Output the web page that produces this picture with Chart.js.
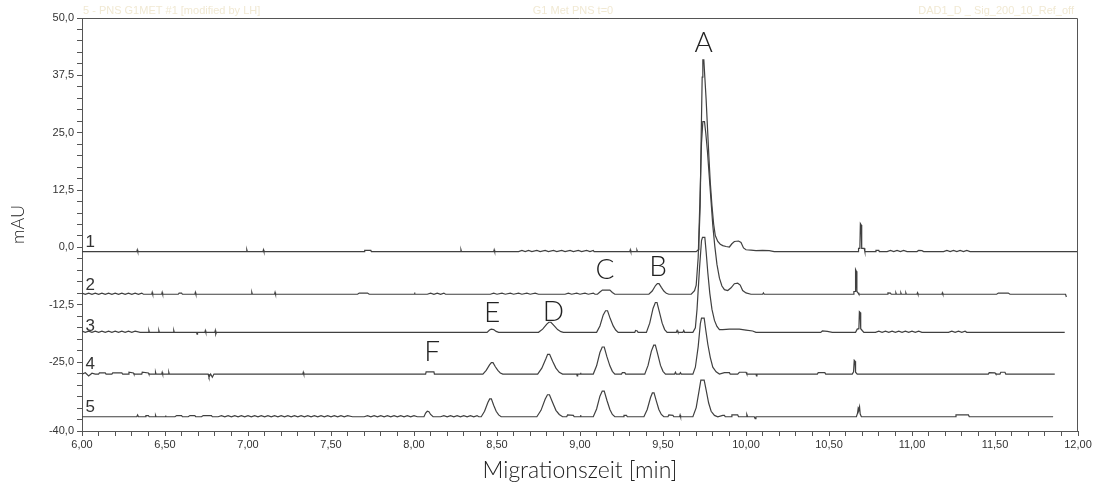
<!DOCTYPE html>
<html>
<head>
<meta charset="utf-8">
<script src="https://cdn.jsdelivr.net/npm/chart.js@4.4.1/dist/chart.umd.min.js"></script>
<style>
  html, body { margin: 0; padding: 0; background: #fff; }
  canvas { display: block; }
</style>
</head>
<body>
<canvas id="elektropherogramm" width="1094" height="491"></canvas>
<script>
// Grundlinien der fünf Läufe (mAU)
const baselines = [-0.9, -10.2, -18.5, -27.6, -36.9];
const traceNames = ["1", "2", "3", "4", "5"];

// Signal über der Grundlinie: [Zeit min, mAU]
const trace1 = [
  [6.00,0],[6.33,0],[6.333,0.4],[6.336,0],[6.99,0],[6.993,0.4],[6.996,0],[7.09,0],[7.093,0.4],[7.096,0],
  [7.70,0],[7.703,0.25],[7.74,0.25],[7.743,0],[8.28,0],[8.283,0.4],[8.286,0],[8.48,0],[8.483,0.4],[8.486,0],
  [8.63,0],[8.65,0.25],[8.67,0],[8.69,0.25],[8.71,0],[8.74,0.25],[8.76,0],[8.79,0.25],[8.81,0],[8.84,0.25],
  [8.86,0],[8.89,0.25],[8.91,0],[8.94,0.25],[8.96,0],[8.99,0.25],[9.01,0],[9.04,0.25],[9.06,0],[9.08,0.25],[9.085,0],
  [9.30,0],[9.303,0.4],[9.306,0],[9.34,0],[9.343,0.3],[9.346,0],
  [9.70,0],[9.712,0.4],[9.716,1.8],[9.724,10],[9.73,25],[9.736,38],[9.740,41.8],[9.746,41.8],[9.752,38],
  [9.76,33],[9.768,27],[9.776,21],[9.785,15],[9.795,10],[9.805,6],[9.815,3.5],[9.83,2.2],[9.845,1.6],[9.86,1.3],
  [9.88,1.1],[9.90,1.0],[9.915,1.7],[9.93,2.2],[9.955,2.3],[9.97,2.0],[9.985,0.8],[10.0,0.4],[10.03,0.3],
  [10.06,0.2],[10.10,0.25],[10.14,0.2],[10.17,0],
  [10.675,0],[10.678,0.7],[10.686,0.7],[10.689,6.1],[10.694,5.8],[10.697,0.7],[10.712,0.7],[10.716,0],
  [10.78,0],[10.783,0.25],[10.80,0.25],[10.803,0],[10.85,0],[10.87,0.25],[10.89,0],[10.91,0.25],[10.93,0],
  [10.95,0.25],[10.97,0],[11.03,0],[11.04,0.25],[11.06,0.2],[11.07,0],[11.19,0],[11.21,0.25],[11.23,0],
  [11.25,0.25],[11.27,0],[11.29,0.25],[11.31,0],[11.33,0.25],[11.35,0],[12.0,0]
];

const trace2 = [
  [6.00,0.25],[6.02,0],[6.04,0.25],[6.06,0],[6.08,0.25],[6.10,0],[6.12,0.25],[6.14,0],[6.16,0.25],[6.18,0],
  [6.20,0.25],[6.22,0],[6.24,0.25],[6.26,0],[6.28,0.25],[6.30,0],[6.32,0.25],[6.34,0],[6.36,0.25],[6.37,0],
  [6.42,0],[6.423,0.4],[6.426,0],[6.48,0],[6.483,0.4],[6.486,0],[6.58,0],[6.585,0.25],[6.60,0.25],[6.605,0],
  [6.68,0],[6.683,0.4],[6.686,0],[7.02,0],[7.023,0.4],[7.026,0],[7.16,0],[7.163,0.4],[7.166,0],
  [7.66,0],[7.67,0.25],[7.72,0.25],[7.73,0],[8.0,0],[8.003,0.4],[8.006,0],[8.08,0],[8.10,0.25],[8.12,0],
  [8.14,0.25],[8.16,0],[8.18,0.25],[8.19,0],[8.46,0],[8.48,0.25],[8.50,0],[8.53,0.25],[8.55,0],[8.58,0.25],
  [8.60,0],[8.63,0.25],[8.65,0],[8.68,0.25],[8.70,0],[8.73,0.25],[8.75,0],[8.78,0],
  [8.91,0],[8.93,0.25],[8.95,0],[8.98,0.25],[9.00,0],[9.03,0.25],[9.05,0],[9.08,0.25],[9.09,0],
  [9.105,0],[9.12,0.5],[9.135,0.9],[9.18,0.9],[9.195,0.4],[9.21,0],
  [9.415,0],[9.435,0.7],[9.455,1.9],[9.466,2.3],[9.476,2.3],[9.49,1.5],[9.505,0.7],[9.52,0.2],[9.535,0],
  [9.67,0],[9.69,0.8],[9.70,2.0],[9.712,8],[9.722,20],[9.732,33],[9.740,37.6],[9.750,37.6],[9.758,35],
  [9.768,31],[9.778,26],[9.79,20],[9.80,15],[9.812,10.5],[9.825,6.5],[9.84,3.5],[9.855,1.8],[9.87,1.0],
  [9.89,0.8],[9.91,1.4],[9.93,2.3],[9.95,2.4],[9.965,2.0],[9.98,0.8],[10.0,0.3],[10.03,0],
  [10.10,0],[10.105,0.3],[10.11,0],
  [10.645,0],[10.65,0.6],[10.657,0.6],[10.66,5.4],[10.665,5.0],[10.668,0.6],[10.675,0.3],[10.68,0],
  [10.85,0],[10.855,0.3],[10.87,0.25],[10.875,0],[10.90,0],[10.903,0.3],[10.906,0],[10.93,0],[10.933,0.3],
  [10.936,0],[10.96,0],[10.963,0.3],[10.966,0],[11.03,0],[11.033,0.3],[11.036,0],[11.18,0],[11.183,0.3],
  [11.186,0],[11.51,0],[11.52,0.25],[11.55,0.25],[11.58,0.25],[11.59,0],[11.925,0],[11.93,-0.6]
];

const trace3 = [
  [6.00,0.25],[6.02,0],[6.04,0.25],[6.06,0],[6.08,0.25],[6.10,0],[6.12,0.25],[6.14,0],[6.16,0.25],[6.18,0],
  [6.20,0.25],[6.22,0],[6.24,0.25],[6.26,0],[6.28,0.25],[6.30,0],[6.32,0.25],[6.35,0],
  [6.40,0],[6.403,0.4],[6.406,0],[6.46,0],[6.463,0.4],[6.466,0],[6.55,0],[6.553,0.4],[6.556,0],
  [6.69,0],[6.693,-0.4],[6.696,0],[6.74,0],[6.743,0.4],[6.746,0],[6.80,0],[6.803,0.4],[6.806,-0.4],[6.81,0],
  [8.44,0],[8.455,0.5],[8.465,0.7],[8.48,0.6],[8.495,0.2],[8.51,0],
  [8.75,0],[8.775,0.7],[8.80,1.8],[8.812,2.2],[8.825,2.2],[8.845,1.4],[8.865,0.6],[8.885,0.15],[8.90,0],
  [9.10,0],[9.12,1.4],[9.14,3.8],[9.154,4.7],[9.166,4.7],[9.182,3.0],[9.20,1.4],[9.215,0.5],[9.23,0],
  [9.33,0],[9.335,0.4],[9.345,0.3],[9.35,0],
  [9.40,0],[9.42,2.0],[9.44,5.2],[9.454,6.5],[9.464,6.5],[9.48,4.2],[9.495,2.0],[9.51,0.6],[9.525,0],
  [9.58,0],[9.585,0.4],[9.59,0],[9.62,0],[9.625,0.4],[9.63,0],
  [9.68,0],[9.695,1.0],[9.705,5],[9.72,14],[9.732,20],[9.738,20.7],[9.752,20.7],[9.76,17.5],[9.77,13],
  [9.782,8.5],[9.795,5],[9.81,2.6],[9.825,1.3],[9.84,0.6],[9.86,0.6],[9.90,0.7],[9.96,0.7],[10.0,0.5],
  [10.04,0.3],[10.06,0],
  [10.45,0],[10.46,0.3],[10.49,0.2],[10.52,0],
  [10.66,0],[10.67,0.7],[10.68,0.8],[10.683,4.5],[10.688,4.3],[10.691,0.8],[10.70,0.4],[10.71,0],
  [10.78,0],[10.80,0.25],[10.82,0],[10.84,0.25],[10.86,0],[10.88,0.25],[10.90,0],[10.92,0.25],[10.94,0],
  [10.96,0.25],[10.98,0],[11.00,0.25],[11.02,0],[11.04,0.25],[11.06,0],[11.08,0],
  [11.22,0],[11.24,0.25],[11.26,0],[11.28,0.25],[11.30,0],[11.32,0.25],[11.33,0],[11.92,0]
];

const trace4 = [
  [6.00,0],[6.02,0.3],[6.04,-0.4],[6.06,0.2],[6.08,0],[6.10,0],[6.105,0.25],[6.14,0.25],[6.145,0],
  [6.18,0],[6.185,0.25],[6.24,0.25],[6.245,0],[6.28,0],[6.283,0.4],[6.31,0.25],[6.313,0],[6.36,0],
  [6.363,0.4],[6.40,0.25],[6.403,0],[6.44,0],[6.443,0.4],[6.446,0],[6.48,0],[6.483,0.4],[6.486,0],
  [6.52,0],[6.523,0.4],[6.526,0],[6.76,0],[6.765,-0.7],[6.775,0],[6.785,-0.7],[6.795,0],
  [7.33,0],[7.333,0.4],[7.336,0],
  [8.07,0],[8.073,0.5],[8.12,0.5],[8.123,0],
  [8.415,0],[8.435,0.8],[8.455,2.0],[8.466,2.5],[8.476,2.5],[8.49,1.6],[8.505,0.8],[8.52,0.25],[8.535,0],
  [8.745,0],[8.77,1.3],[8.795,3.4],[8.805,4.3],[8.817,4.3],[8.835,2.8],[8.855,1.3],[8.875,0.4],[8.895,0],
  [8.98,0],[8.983,-0.4],[8.986,0],[9.00,0],[9.003,0.3],[9.006,0],
  [9.08,0],[9.10,1.8],[9.12,4.7],[9.134,5.9],[9.146,5.9],[9.162,3.8],[9.18,1.8],[9.195,0.6],[9.21,0],
  [9.25,0],[9.255,0.3],[9.27,0.3],[9.275,0],
  [9.39,0],[9.41,1.9],[9.43,5.0],[9.444,6.3],[9.454,6.3],[9.47,4.1],[9.485,1.9],[9.50,0.6],[9.515,0],
  [9.57,0],[9.575,0.4],[9.58,0],[9.60,0],[9.605,0.3],[9.61,0],
  [9.68,0],[9.695,1.5],[9.712,6],[9.725,11],[9.732,12.2],[9.748,12.2],[9.758,9.5],[9.77,6.5],[9.785,3.6],
  [9.80,1.5],[9.82,0.5],[9.84,0],[9.87,0.3],[9.90,0.3],[9.905,0],[9.95,0],[9.96,0.4],[10.0,0.4],[10.005,0],
  [10.06,0],[10.063,-0.4],[10.066,0],
  [10.43,0],[10.435,0.3],[10.475,0.3],[10.48,0],
  [10.64,0],[10.648,0.5],[10.652,3.0],[10.657,2.8],[10.66,0.4],[10.67,0],
  [11.46,0],[11.465,0.3],[11.50,0.25],[11.505,0],[11.53,0],[11.535,0.4],[11.56,0.4],[11.565,0],[11.86,0]
];

const trace5 = [
  [6.00,0],[6.33,0],[6.335,0.4],[6.34,0],[6.38,0],[6.385,0.25],[6.40,0.25],[6.405,0],[6.44,0],[6.443,0.3],
  [6.446,0],[6.50,0],[6.503,0.3],[6.506,0],[6.56,0],[6.57,0.25],[6.60,0.25],[6.605,0],[6.64,0],[6.65,0.25],
  [6.68,0.25],[6.685,0],[6.72,0],[6.73,0.25],[6.78,0.25],[6.785,0],[6.82,0],[6.84,0.25],[6.86,0],[6.88,0.25],
  [6.90,0],[6.92,0.25],[6.94,0],[6.96,0.25],[6.98,0],[7.00,0.25],[7.02,0],[7.04,0.25],[7.06,0],[7.08,0.25],
  [7.10,0],[7.12,0.25],[7.14,0],[7.16,0.25],[7.18,0],[7.20,0.25],[7.22,0],[7.24,0.25],[7.26,0],[7.28,0.25],
  [7.30,0],[7.32,0.25],[7.34,0],[7.36,0.25],[7.38,0],[7.40,0.25],[7.42,0],[7.44,0.25],[7.46,0],[7.48,0.25],
  [7.50,0],[7.52,0.25],[7.54,0],[7.56,0.25],[7.58,0],[7.60,0.25],[7.63,0],
  [7.70,0],[7.72,0.25],[7.74,0],[7.76,0.25],[7.78,0],[7.80,0.25],[7.82,0],[7.84,0.25],[7.86,0],[7.88,0.25],
  [7.90,0],[7.92,0.25],[7.94,0],[7.96,0.25],[7.98,0],[8.00,0.25],[8.02,0],
  [8.06,0],[8.07,0.8],[8.08,1.2],[8.09,1.1],[8.10,0.5],[8.115,0],
  [8.16,0],[8.18,0.25],[8.20,0],[8.22,0.25],[8.24,0],[8.26,0.25],[8.28,0],[8.30,0.25],[8.32,0],[8.34,0.25],
  [8.36,0],[8.38,0.25],[8.39,0],
  [8.405,0],[8.425,1.2],[8.445,3.1],[8.456,3.9],[8.466,3.9],[8.48,2.5],[8.495,1.2],[8.51,0.4],[8.525,0],
  [8.74,0],[8.765,1.4],[8.79,3.8],[8.804,4.8],[8.816,4.8],[8.835,3.1],[8.855,1.4],[8.875,0.5],[8.895,0],
  [8.92,0],[8.925,0.4],[8.96,0.3],[8.965,0],[9.00,0],[9.003,0.4],[9.006,0],
  [9.08,0],[9.10,1.7],[9.12,4.5],[9.134,5.6],[9.146,5.6],[9.162,3.6],[9.18,1.6],[9.195,0.5],[9.21,0],
  [9.26,0],[9.265,0.3],[9.28,0.3],[9.285,0],
  [9.385,0],[9.405,1.6],[9.425,4.2],[9.436,5.2],[9.446,5.2],[9.46,3.4],[9.475,1.6],[9.49,0.5],[9.505,0],
  [9.53,0],[9.535,0.4],[9.56,0.3],[9.565,0],[9.60,0],[9.603,0.4],[9.606,0],
  [9.68,0],[9.70,2.0],[9.718,5.8],[9.728,8.0],[9.748,8.0],[9.76,5.8],[9.775,3.0],[9.79,1.2],[9.81,0.3],[9.83,0],
  [9.86,0.3],[9.87,0.3],[9.875,0],[9.91,0],[9.915,0.4],[9.95,0.4],[9.955,0],[10.0,0],[10.005,0.5],[10.01,0],
  [10.05,0],[10.055,-0.4],[10.06,0],
  [10.665,0],[10.672,0.8],[10.676,1.9],[10.68,1.6],[10.684,2.2],[10.688,0.6],[10.695,0],
  [11.26,0],[11.265,0.4],[11.34,0.4],[11.345,0],[11.85,0]
];

const traces = [trace1, trace2, trace3, trace4, trace5];

// Beschriftungen der Peaks
const peakLabels = ["A", "B", "C", "D", "E", "F"];
const peakLabelX = [9.745, 9.47, 9.15, 8.84, 8.47, 8.11];
const peakLabelY = [44.6, -4.3, -4.8, -14.1, -14.3, -22.8];
const traceLabelY = [1.1, -8.3, -17.2, -25.4, -34.8];

// Achsenbeschriftung
const xTickLabels = ["6,00","6,50","7,00","7,50","8,00","8,50","9,00","9,50","10,00","10,50","11,00","11,50","12,00"];
const yTickValues = [50, 37.5, 25, 12.5, 0, -12.5, -25, -40];
const yTickLabels = ["50,0","37,5","25,0","12,5","0,0","-12,5","-25,0","-40,0"];

const headerTexts = ["5 - PNS G1MET #1 [modified by LH]", "G1 Met PNS t=0", "DAD1_D _ Sig_200_10_Ref_off"];

const datasets = traces.map((tr, i) => ({
  label: traceNames[i],
  data: tr.map(p => ({ x: p[0], y: baselines[i] + p[1] })),
  borderColor: "#404040",
  borderWidth: 1.2,
  pointRadius: 0,
  tension: 0,
  fill: false
}));

const lettersPlugin = {
  id: "letters",
  afterDatasetsDraw(chart) {
    const { ctx, chartArea: a, scales: { x, y } } = chart;
    ctx.save();
    // Rahmen oben und rechts
    ctx.strokeStyle = "#555";
    ctx.lineWidth = 1;
    ctx.beginPath();
    ctx.moveTo(a.left, a.top + 0.5);
    ctx.lineTo(a.right - 0.5, a.top + 0.5);
    ctx.lineTo(a.right - 0.5, a.bottom);
    ctx.stroke();

    ctx.fillStyle = "#222";
    ctx.textAlign = "center";
    ctx.textBaseline = "middle";
    ctx.font = "300 28px 'Lato', 'DejaVu Sans', sans-serif";
    peakLabels.forEach((t, i) => {
      ctx.fillText(t, x.getPixelForValue(peakLabelX[i]), y.getPixelForValue(peakLabelY[i]));
    });

    ctx.font = "17px 'Liberation Sans', Arial, sans-serif";
    ctx.fillStyle = "#333";
    traceNames.forEach((t, i) => {
      ctx.fillText(t, x.getPixelForValue(6.05), y.getPixelForValue(traceLabelY[i]));
    });

    // blasse Kopfzeile
    ctx.font = "11px 'Liberation Sans', Arial, sans-serif";
    ctx.fillStyle = "#f1e9d3";
    ctx.textBaseline = "alphabetic";
    ctx.textAlign = "left";
    ctx.fillText(headerTexts[0], a.left + 1, a.top - 4);
    ctx.textAlign = "center";
    ctx.fillText(headerTexts[1], 573, a.top - 4);
    ctx.textAlign = "right";
    ctx.fillText(headerTexts[2], a.right - 4, a.top - 4);
    ctx.restore();
  }
};

const tickFont = { family: "'Liberation Sans Narrow', 'Liberation Sans', Arial, sans-serif", size: 11 };

new Chart(document.getElementById("elektropherogramm"), {
  type: "line",
  data: { datasets },
  options: {
    responsive: false,
    animation: false,
    parsing: false,
    normalized: true,
    layout: { padding: { top: 18, right: 16, left: 0, bottom: 0 } },
    plugins: { legend: { display: false }, tooltip: { enabled: false } },
    scales: {
      x: {
        type: "linear",
        min: 6,
        max: 12,
        afterFit: s => { s.height = 60; },
        afterBuildTicks: s => {
          const t = [];
          for (let i = 0; i <= 60; i++) t.push({ value: Math.round((6 + i * 0.1) * 10) / 10 });
          s.ticks = t;
        },
        ticks: {
          autoSkip: false,
          maxRotation: 0,
          padding: 2,
          color: "#333",
          font: tickFont,
          callback: (v, i) => (i % 5 === 0 ? xTickLabels[i / 5] : "")
        },
        grid: { drawOnChartArea: false, drawTicks: true, tickLength: 5, color: "#555" },
        border: { color: "#555", width: 1 },
        title: {
          display: true,
          text: "Migrationszeit [min]",
          color: "#222",
          font: { family: "'Lato', 'DejaVu Sans', sans-serif", size: 23, weight: 300 },
          padding: { top: 0, bottom: 7 }
        }
      },
      y: {
        type: "linear",
        min: -40,
        max: 50,
        afterFit: s => { s.width = 82; },
        afterBuildTicks: s => {
          const t = [];
          for (let i = 0; i <= 36; i++) t.push({ value: -40 + i * 2.5 });
          s.ticks = t;
        },
        ticks: {
          autoSkip: false,
          padding: 3,
          color: "#333",
          font: tickFont,
          callback: v => {
            const k = yTickValues.indexOf(v);
            return k >= 0 ? yTickLabels[k] : "";
          }
        },
        grid: { drawOnChartArea: false, drawTicks: true, tickLength: 5, color: "#555" },
        border: { color: "#555", width: 1 },
        title: {
          display: true,
          text: "mAU",
          color: "#222",
          font: { family: "'Lato', 'DejaVu Sans', sans-serif", size: 18, weight: 300 },
          padding: { top: 7, bottom: 0 }
        }
      }
    }
  },
  plugins: [lettersPlugin]
});
</script>
</body>
</html>
